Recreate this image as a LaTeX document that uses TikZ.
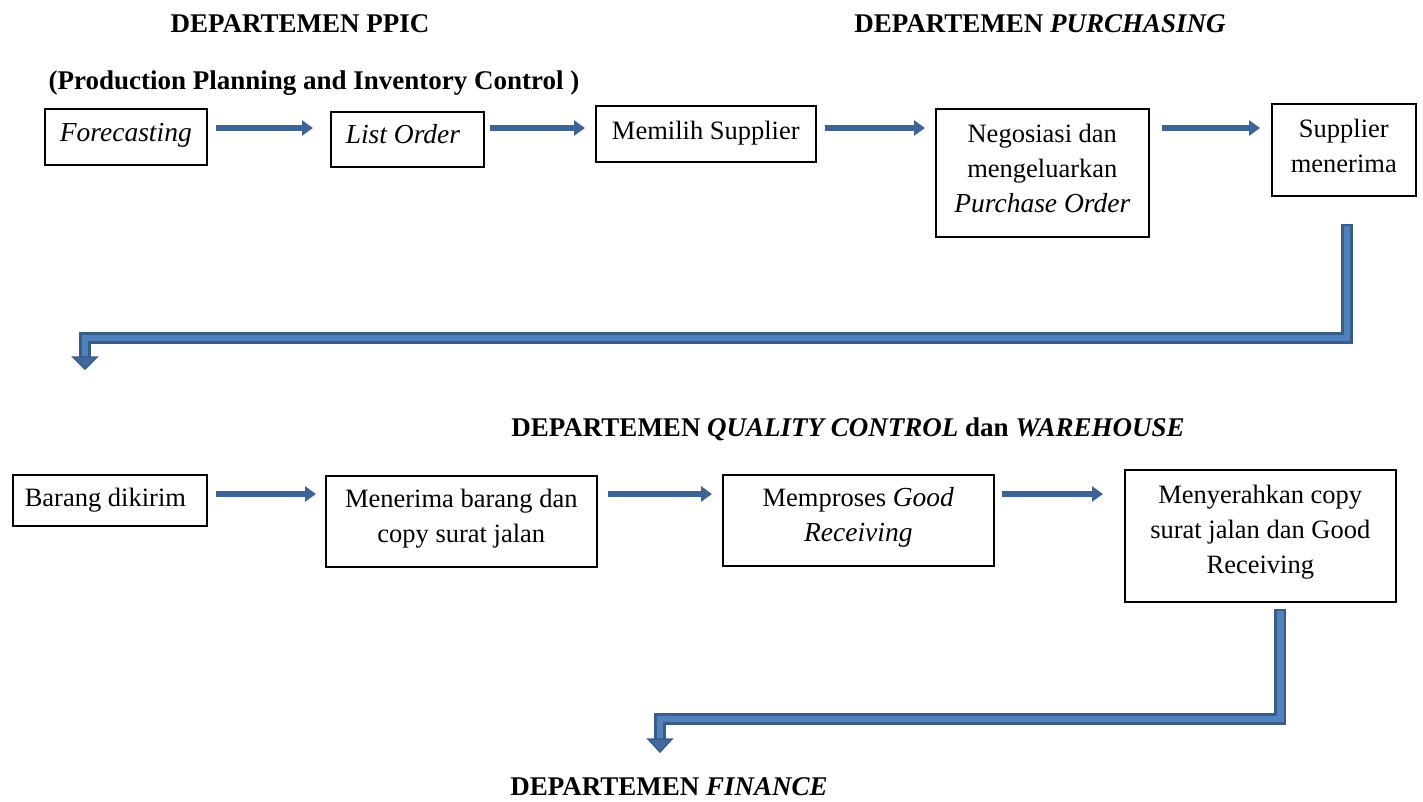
\documentclass[tikz,border=0pt]{standalone}
\usepackage{fontspec}
\setmainfont{Liberation Serif}
\usetikzlibrary{arrows.meta,calc}
\definecolor{arrblue}{RGB}{62,99,150}
\definecolor{eout}{RGB}{56,93,138}
\definecolor{efill}{RGB}{79,129,189}
\definecolor{etip}{RGB}{66,105,158}
\newcommand{\cbox}[4]{\parbox[c][#2][t]{#1}{\centering\rule{0pt}{#3}#4\par}}
\newcommand{\lbox}[5]{\parbox[c][#2][t]{#1}{\raggedright\hspace*{#4}\rule{0pt}{#3}#5\par}}
\newcommand{\ti}[1]{{\fontsize{27.5}{35}\selectfont\itshape #1}}
\tikzset{
  box/.style={draw, line width=1.6pt, inner sep=0pt, anchor=north west},
  head/.style={anchor=base, inner sep=0pt, font=\fontsize{27}{35}\selectfont\bfseries},
  flow/.style={arrblue, line width=6pt, -{Triangle[length=11pt,width=15pt]}},
  elbout/.style={eout, line width=12pt, line join=miter},
  elbin/.style={efill, line width=6.5pt, line join=miter},
  elbtip/.style={fill=etip, draw=eout, line width=1.5pt, line join=miter}
}
\begin{document}
\begin{tikzpicture}[x=1pt,y=-1pt]
\fontsize{26.5}{35}\selectfont
\useasboundingbox (0,0) rectangle (1423,801);
\fill[white] (0,0) rectangle (1423,801);

% headings
\node[head] (hppic) at (300,32) {DEPARTEMEN PPIC};
\node[head] (hppic2) at (314,89) {(Production Planning and Inventory Control )};
\node[head] (hpur) at (1040,32) {DEPARTEMEN \textit{PURCHASING}};
\node[head] (hqc) at (848,436) {DEPARTEMEN \textit{QUALITY CONTROL} dan \textit{WAREHOUSE}};
\node[head] (hfin) at (669,795) {DEPARTEMEN \textit{FINANCE}};

% row 1 boxes
\node[box] (fc) at (44,108) {\cbox{162pt}{56pt}{33pt}{\ti{Forecasting}}};
\node[box] (lo) at (330,111) {\lbox{153pt}{55pt}{32pt}{15pt}{\ti{List Order}}};
\node[box] (ms) at (595,105) {\cbox{220pt}{56pt}{34pt}{Memilih Supplier}};
\node[box] (ng) at (935,108) {\cbox{213pt}{128pt}{34pt}{Negosiasi dan\\ mengeluarkan\\ \ti{Purchase Order}}};
\node[box] (sm) at (1271,103) {\cbox{144pt}{92pt}{34pt}{Supplier\\ menerima}};

% row 2 boxes
\node[box] (bd) at (12,474) {\lbox{194pt}{51pt}{32pt}{12pt}{Barang dikirim}};
\node[box] (mb) at (325,475) {\cbox{271pt}{91pt}{32pt}{Menerima barang dan\\ copy surat jalan}};
\node[box] (mg) at (722,474) {\cbox{271pt}{91pt}{32pt}{Memproses \ti{Good}\\ \ti{Receiving}}};
\node[box] (my) at (1124,469) {\cbox{271pt}{132pt}{34pt}{Menyerahkan copy\\ surat jalan dan Good\\ Receiving}};

% row levels
\coordinate (r1) at (0,128);
\coordinate (r2) at (0,494);

% row 1 arrows
\draw[flow, shorten <=8pt, shorten >=17pt] (fc.east |- r1) -- (lo.west |- r1);
\draw[flow, shorten <=5pt, shorten >=10pt] (lo.east |- r1) -- (ms.west |- r1);
\draw[flow, shorten <=8pt, shorten >=10pt] (ms.east |- r1) -- (ng.west |- r1);
\draw[flow, shorten <=12pt, shorten >=11pt] (ng.east |- r1) -- (sm.west |- r1);

% row 2 arrows
\draw[flow, shorten <=8pt, shorten >=9pt] (bd.east |- r2) -- (mb.west |- r2);
\draw[flow, shorten <=10pt, shorten >=10pt] (mb.east |- r2) -- (mg.west |- r2);
\draw[flow, shorten <=7pt, shorten >=21pt] (mg.east |- r2) -- (my.west |- r2);

% elbow arrow 1
\coordinate (s1) at ([xshift=3pt,yshift=-27pt]sm.south);
\coordinate (c1) at (85,338);
\coordinate (e1) at (85,357);
\draw[elbout] (s1) |- (c1) -- (e1);
\draw[elbin, shorten <=2.5pt] (s1) |- (c1) -- (e1);
\coordinate (t1) at (85,369);
\filldraw[elbtip] ($(e1)+(-12,0)$) -- ($(e1)+(12,0)$) -- (t1) -- cycle;

% elbow arrow 2
\coordinate (s2) at ([xshift=20pt,yshift=-6pt]my.south);
\coordinate (c2) at (660,719);
\coordinate (e2) at (660,739);
\draw[elbout] (s2) |- (c2) -- (e2);
\draw[elbin, shorten <=2.5pt] (s2) |- (c2) -- (e2);
\coordinate (t2) at (660,752);
\filldraw[elbtip] ($(e2)+(-12,0)$) -- ($(e2)+(12,0)$) -- (t2) -- cycle;
\end{tikzpicture}
\end{document}
